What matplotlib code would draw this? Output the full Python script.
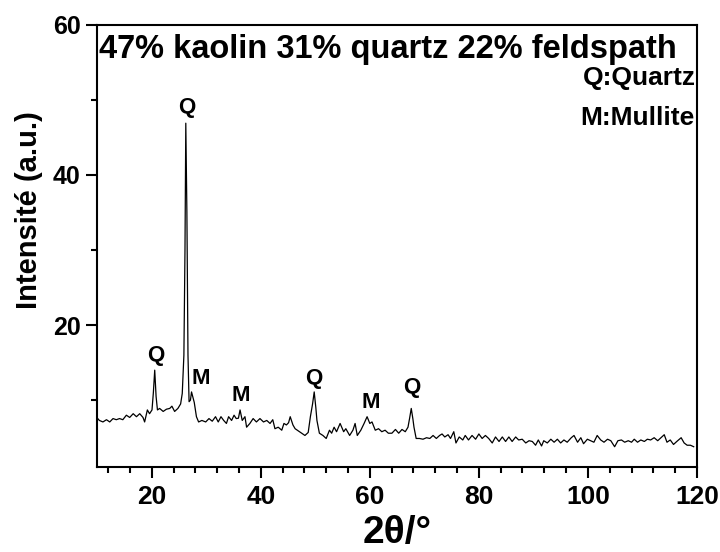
import matplotlib
matplotlib.use("Agg")
import matplotlib.pyplot as plt
from matplotlib.ticker import MultipleLocator

plt.rcParams["font.family"] = ["Liberation Sans", "DejaVu Sans"]
plt.rcParams["font.weight"] = "bold"

# XRD pattern (2theta in degrees, intensity in a.u.)
two_theta = [
    9.8, 10.4, 11.05, 11.7, 12.3, 12.9, 13.5, 14.1, 14.7, 15.35, 15.96, 16.6, 17.2, 17.8,
    18.4, 18.7, 19.2, 19.6, 20.05, 20.3, 20.55, 20.8, 21.05, 21.45, 22.1, 22.7, 23.3, 23.7,
    24.2, 24.8, 25.3, 25.6, 25.9, 26.1, 26.25, 26.45, 26.65, 26.85, 27.1, 27.3, 27.55,
    27.8, 28.2, 28.6, 29.2, 29.9, 30.5, 31.1, 31.7, 32.2, 32.7, 33.2, 33.7, 34.1, 34.65,
    35.1, 35.5, 35.9, 36.2, 36.6, 37.1, 37.4, 38.0, 38.6, 39.2, 39.85, 40.5, 41.1, 41.7,
    42.2, 42.6, 43.2, 43.85, 44.25, 44.7, 45.1, 45.4, 45.9, 46.3, 46.9, 47.5, 48.1, 48.7,
    49.1, 49.5, 49.8, 50.1, 50.3, 50.75, 51.4, 52.0, 52.6, 53.0, 53.45, 53.9, 54.55, 55.2,
    55.6, 56.3, 56.9, 57.3, 57.7, 58.35, 58.95, 59.5, 60.0, 60.4, 61.0, 61.6, 62.2, 62.8,
    63.4, 64.05, 64.7, 65.3, 65.9, 66.5, 67.0, 67.3, 67.6, 67.9, 68.1, 68.5, 69.1, 69.75,
    70.4, 71.0, 71.6, 72.2, 72.8, 73.25, 73.75, 74.35, 74.8, 75.4, 75.8, 76.4, 77.05,
    77.5, 78.1, 78.75, 79.4, 80.0, 80.6, 81.2, 81.8, 82.45, 83.05, 83.7, 84.3, 84.9, 85.5,
    86.1, 86.75, 87.3, 87.95, 88.6, 89.2, 89.8, 90.4, 90.9, 91.5, 91.9, 92.55, 93.2, 93.8,
    94.4, 95.0, 95.6, 96.2, 96.95, 97.45, 98.1, 98.7, 99.2, 99.9, 100.5, 101.1, 101.7,
    102.35, 102.95, 103.6, 104.2, 104.9, 105.5, 106.15, 106.75, 107.4, 108.0, 108.5,
    109.1, 109.7, 110.35, 110.9, 111.5, 112.15, 112.8, 113.4, 114.0, 114.5, 115.1, 115.7,
    116.3, 117.1, 117.65, 118.2, 118.8, 119.4,
]
intensity = [
    7.8, 7.3, 7.1, 7.4, 7.1, 7.55, 7.4, 7.55, 7.4, 8.0, 7.7, 8.2, 7.8, 8.2,
    7.7, 7.1, 8.7, 8.2, 8.7, 11.0, 14.0, 10.5, 8.7, 8.9, 8.5, 8.8, 8.9, 9.2,
    8.5, 8.9, 9.5, 10.9, 16.0, 30.0, 46.9, 35.0, 16.0, 9.8, 10.0, 11.1, 10.4,
    9.7, 7.8, 7.1, 7.3, 7.1, 7.55, 7.2, 7.8, 7.1, 7.8, 7.3, 6.9, 7.8, 7.3,
    8.0, 7.55, 7.6, 8.7, 7.3, 7.8, 6.4, 6.9, 7.55, 7.1, 7.55, 7.1, 7.3, 6.9,
    7.4, 6.2, 6.4, 6.0, 6.9, 6.7, 7.0, 7.8, 6.7, 6.2, 5.9, 5.6, 5.3, 5.7,
    7.8, 9.5, 11.1, 9.0, 7.3, 5.6, 5.3, 4.9, 6.0, 5.6, 6.4, 5.8, 6.9, 5.8,
    6.2, 5.3, 6.0, 6.9, 5.3, 6.0, 6.9, 7.8, 6.9, 7.1, 6.0, 6.2, 5.8, 6.0,
    5.6, 5.6, 6.1, 5.6, 6.1, 5.8, 6.4, 7.6, 8.9, 7.5, 6.4, 4.9, 4.9, 4.8,
    5.0, 4.9, 5.3, 4.9, 5.3, 5.5, 5.1, 5.4, 4.9, 5.8, 4.3, 5.1, 4.7,
    5.3, 4.7, 5.3, 4.8, 5.5, 4.9, 5.3, 4.9, 4.3, 5.1, 4.5, 5.1, 4.5, 5.1,
    4.5, 5.1, 4.7, 4.8, 4.3, 4.6, 4.5, 4.0, 4.7, 3.9, 4.6, 4.3, 4.8, 4.4,
    4.8, 4.3, 4.7, 4.4, 5.0, 5.3, 4.4, 5.0, 4.2, 4.8, 4.6, 4.4, 5.3,
    4.7, 4.4, 4.8, 4.6, 3.8, 4.6, 4.7, 4.4, 4.6, 4.4, 4.8,
    4.4, 4.7, 4.5, 4.8, 4.7, 5.0, 4.6, 5.0, 5.4, 4.4, 4.7, 4.1,
    4.5, 5.0, 4.3, 4.0, 4.0, 3.8,
]

# peak labels: phase letter, 2theta, label baseline height
peak_labels = ["Q", "Q", "M", "M", "Q", "M", "Q"]
peak_x = [20.8, 26.4, 29.0, 36.3, 49.8, 60.2, 67.7]
peak_y = [14.6, 47.6, 11.5, 9.2, 11.5, 8.3, 10.3]

fig = plt.figure(figsize=(7.2, 5.52), dpi=100)
ax = fig.add_axes([0.135, 0.154, 0.833, 0.801])

ax.plot(two_theta, intensity, color="black", linewidth=0.9)

for lab, px, py in zip(peak_labels, peak_x, peak_y):
    ax.text(px, py, lab, ha="center", va="bottom", fontsize=16, fontweight="bold")

ax.text(10.4, 58.8, "47% kaolin 31% quartz 22% feldspath", ha="left", va="top",
        fontsize=23.5, fontweight="bold")
ax.text(99.0, 52.9, "Q:Quartz", ha="left", va="center", fontsize=19, fontweight="bold")
ax.text(98.6, 47.6, "M:Mullite", ha="left", va="center", fontsize=19, fontweight="bold")

ax.set_xlim(10, 120)
ax.set_ylim(1.1, 60)
ax.xaxis.set_major_locator(MultipleLocator(20))
ax.xaxis.set_minor_locator(MultipleLocator(4))
ax.yaxis.set_major_locator(MultipleLocator(20))
ax.yaxis.set_minor_locator(MultipleLocator(10))
ax.tick_params(which="major", direction="out", length=8, width=1.5)
ax.tick_params(which="minor", direction="out", length=4, width=1.5)
ax.tick_params(axis="x", which="major", labelsize=19, pad=5)
ax.tick_params(axis="y", which="major", labelsize=18, pad=4)
for lbl in ax.get_xticklabels() + ax.get_yticklabels():
    lbl.set_fontweight("bold")
for s in ax.spines.values():
    s.set_linewidth(1.5)

ax.set_xlabel("2θ/°", fontsize=28, fontweight="bold", labelpad=4)
ax.set_ylabel("Intensité (a.u.)", fontsize=21, fontweight="bold")
ax.yaxis.set_label_coords(-0.09, 0.58)

fig.savefig("out.png", dpi=100)
